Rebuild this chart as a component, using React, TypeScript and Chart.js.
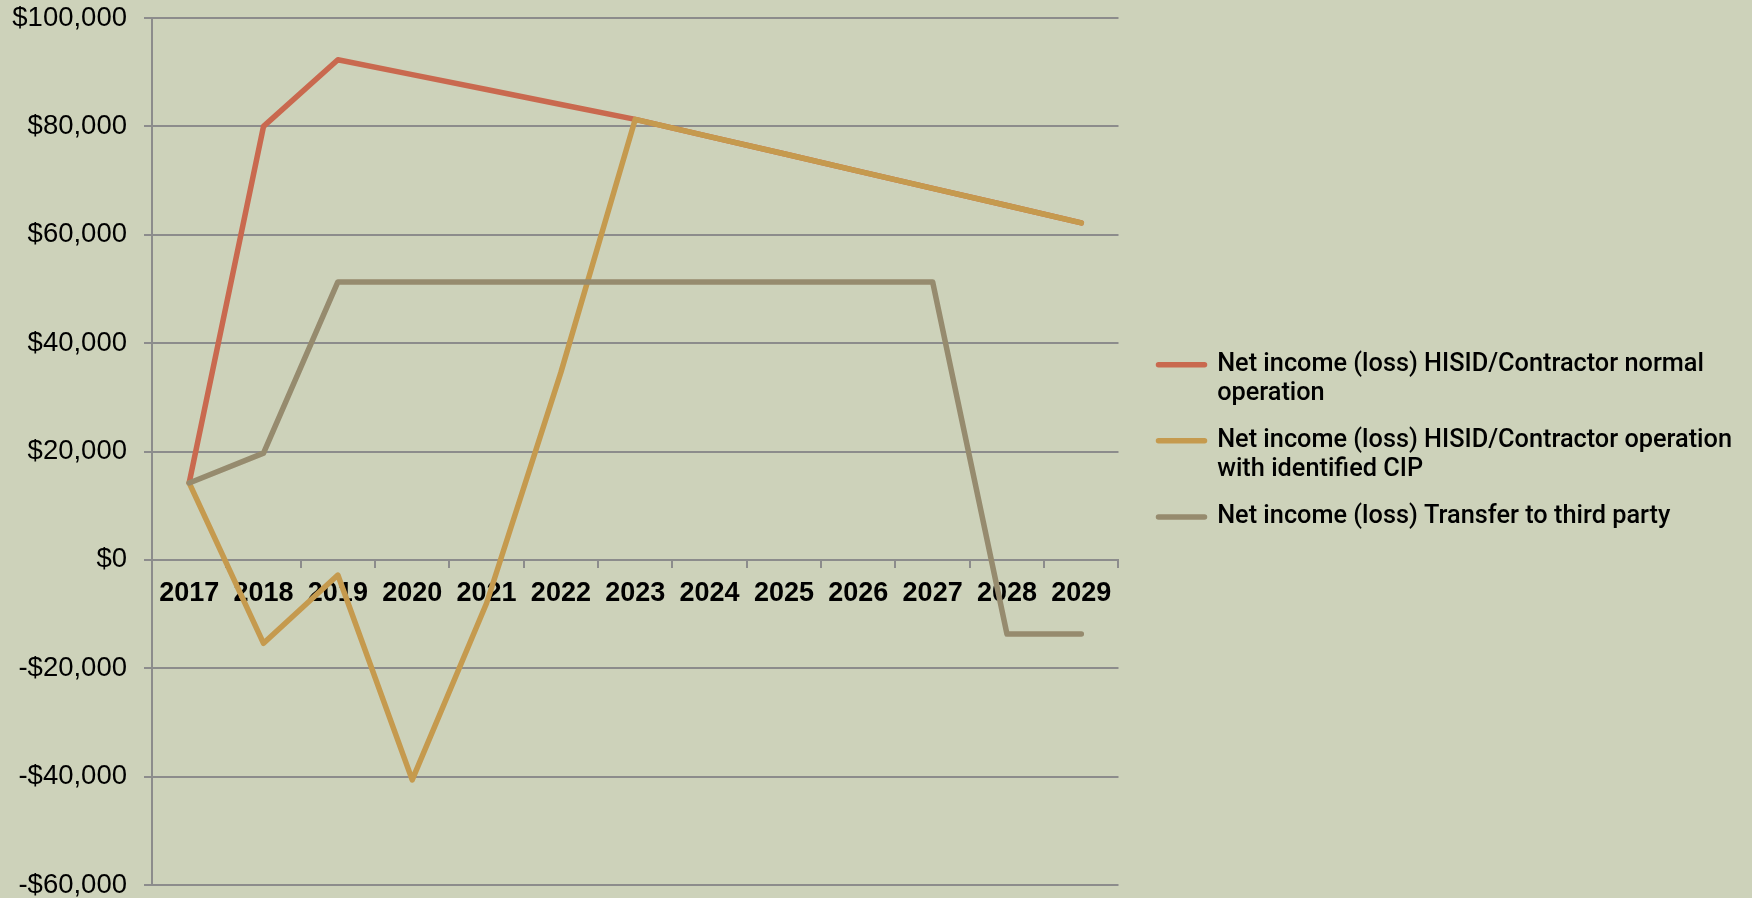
import React, { useEffect, useRef } from 'react';
import { Chart, registerables } from 'chart.js';

Chart.register(...registerables);

// ---------- data ----------
const YEARS = ['2017', '2018', '2019', '2020', '2021', '2022', '2023', '2024', '2025', '2026', '2027', '2028', '2029'];

const NORMAL_OPERATION = [14200, 80000, 92300, 89550, 86800, 84050, 81300, 78100, 74950, 71750, 68550, 65400, 62200];
const OPERATION_WITH_CIP = [14200, -15400, -2800, -40600, -8000, 34600, 81300, 78100, 74950, 71750, 68550, 65400, 62200];
const TRANSFER_THIRD_PARTY = [14200, 19700, 51300, 51300, 51300, 51300, 51300, 51300, 51300, 51300, 51300, -13700, -13700];

const SERIES_LABELS: string[][] = [
  ['Net income (loss) HISID/Contractor normal', 'operation'],
  ['Net income (loss) HISID/Contractor operation', 'with identified CIP'],
  ['Net income (loss) Transfer to third party'],
];

const Y_MIN = -60000;
const Y_MAX = 100000;
const Y_STEP = 20000;

// ---------- styles ----------
const SERIES_COLORS = ['#C9694F', '#C59A4E', '#968B6E'];
const BG = '#CDD2BA';
const GRID = '#8C8C8C';
const FONT = "'Liberation Sans', Arial, sans-serif";
const LEGEND_FONT = "Roboto, 'Liberation Sans', Arial, sans-serif";

const fmtMoney = (v: number) => (v < 0 ? '-$' : '$') + Math.abs(v).toLocaleString('en-US');

// moves the legend block up a little, as in the reference
const legendShift = {
  id: 'legendShift',
  afterLayout(chart: any) {
    const lg = chart.legend;
    if (lg) {
      lg.top -= 9;
      lg.bottom -= 9;
    }
  },
};

export default function App() {
  const ref = useRef<HTMLCanvasElement | null>(null);

  useEffect(() => {
    const series = [NORMAL_OPERATION, OPERATION_WITH_CIP, TRANSFER_THIRD_PARTY];
    const drawOrder = [2, 1, 0];
    const chart = new Chart(ref.current as HTMLCanvasElement, {
      type: 'line',
      data: {
        labels: YEARS,
        datasets: series.map((data, i) => ({
          label: SERIES_LABELS[i].join(' '),
          data,
          borderColor: SERIES_COLORS[i],
          backgroundColor: SERIES_COLORS[i],
          borderWidth: 5.5,
          pointRadius: 0,
          pointHoverRadius: 0,
          tension: 0,
          fill: false,
          borderCapStyle: 'round',
          borderJoinStyle: 'round',
          order: drawOrder[i],
          xAxisID: 'x',
          yAxisID: 'y',
        })),
      },
      plugins: [legendShift],
      options: {
        responsive: false,
        animation: false,
        devicePixelRatio: 1,
        layout: { padding: { top: 18, bottom: 13, left: 0, right: 10 } },
        scales: {
          x: {
            type: 'category',
            position: { y: 0 },
            offset: true,
            grid: {
              display: true,
              drawOnChartArea: false,
              drawTicks: true,
              tickLength: 7,
              offset: true,
              color: GRID,
              lineWidth: 2,
            },
            border: { display: true, color: GRID, width: 2 },
            ticks: {
              autoSkip: false,
              maxRotation: 0,
              minRotation: 0,
              padding: 10,
              color: '#000',
              font: { family: FONT, size: 27, weight: 'bold', lineHeight: 1.2 },
            },
          },
          y: {
            type: 'linear',
            position: 'left',
            min: Y_MIN,
            max: Y_MAX,
            grid: { color: GRID, lineWidth: 2, drawTicks: true, tickLength: 8 },
            border: { display: true, color: GRID, width: 2 },
            ticks: {
              stepSize: Y_STEP,
              padding: 17,
              color: '#000',
              font: { family: FONT, size: 27.5, lineHeight: 1 },
              callback: (v: any) => fmtMoney(Number(v)),
            },
            afterFit: (s: any) => {
              s.width = 152;
              s.paddingTop = 0;
              s.paddingBottom = 0;
            },
          },
          gap: {
            type: 'linear',
            position: 'right',
            display: true,
            grid: { display: false, drawTicks: false },
            border: { display: false },
            ticks: { display: false },
            afterFit: (s: any) => {
              s.width = 21;
            },
          },
        },
        plugins: {
          tooltip: { enabled: false },
          legend: {
            position: 'right',
            align: 'center',
            maxWidth: 800,
            labels: {
              color: '#000',
              font: { family: LEGEND_FONT, size: 25.3, weight: 500, lineHeight: 1.13 },
              boxWidth: 46,
              boxHeight: 0,
              padding: 19,
              generateLabels: (c: any) =>
                c.data.datasets.map((ds: any, i: number) => ({
                  text: SERIES_LABELS[i],
                  fillStyle: ds.borderColor,
                  strokeStyle: ds.borderColor,
                  lineWidth: 5.5,
                  lineCap: 'round',
                  lineJoin: 'round',
                  fontColor: '#000',
                  hidden: false,
                  datasetIndex: i,
                })),
            },
          },
        },
      },
    } as any);
    return () => chart.destroy();
  }, []);

  return (
    <div style={{ position: 'fixed', left: 0, top: 0, width: 1752, height: 898, background: BG }}>
      <canvas ref={ref} width={1752} height={898} style={{ display: 'block', width: 1752, height: 898 }} />
    </div>
  );
}
